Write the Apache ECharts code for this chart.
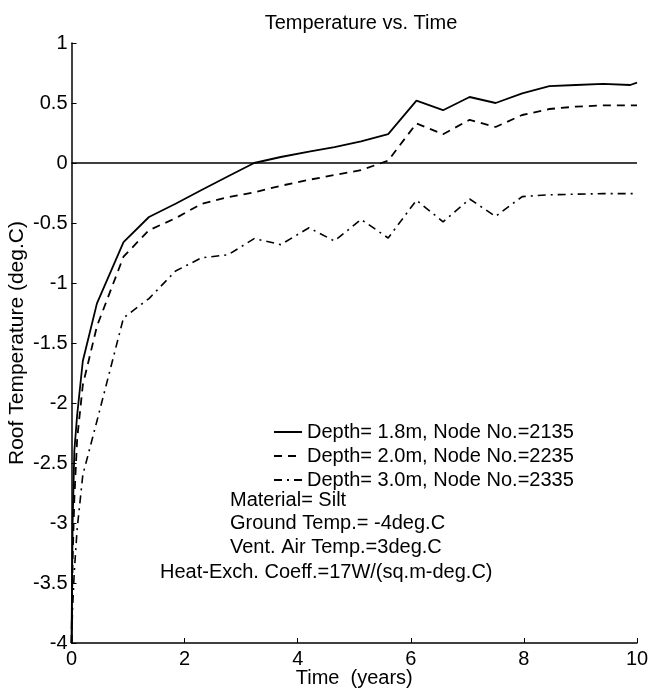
<!DOCTYPE html>
<html>
<head>
<meta charset="utf-8">
<script src="https://cdn.jsdelivr.net/npm/echarts@6/dist/echarts.min.js"></script>
<style>
html,body{margin:0;padding:0;background:#fff;}
#chart{width:653px;height:688px;}
</style>
</head>
<body>
<div id="chart"></div>
<script>
var times = [0, 0.02, 0.05, 0.1, 0.2, 0.45, 0.92, 1.37, 1.84, 2.3, 2.77, 3.23, 3.7, 4.2, 4.65, 5.12, 5.6, 6.1, 6.57, 7.04, 7.5, 7.97, 8.45, 8.92, 9.4, 9.88, 10];
var depth18 = [-4, -3.0, -2.4, -2.1, -1.65, -1.17, -0.66, -0.45, -0.34, -0.225, -0.11, 0.0, 0.05, 0.095, 0.133, 0.18, 0.24, 0.52, 0.44, 0.55, 0.50, 0.58, 0.64, 0.65, 0.66, 0.65, 0.67];
var depth20 = [-4, -3.3, -2.8, -2.3, -1.85, -1.36, -0.78, -0.56, -0.46, -0.34, -0.285, -0.245, -0.19, -0.14, -0.10, -0.06, 0.02, 0.33, 0.24, 0.36, 0.30, 0.40, 0.45, 0.47, 0.48, 0.48, 0.48];
var depth30 = [-4, -3.7, -3.4, -3.05, -2.6, -2.15, -1.29, -1.13, -0.9, -0.79, -0.765, -0.63, -0.68, -0.54, -0.65, -0.47, -0.625, -0.31, -0.49, -0.30, -0.445, -0.28, -0.265, -0.26, -0.255, -0.255, -0.255];
var seriesNames = ['Depth= 1.8m, Node No.=2135', 'Depth= 2.0m, Node No.=2235', 'Depth= 3.0m, Node No.=2335'];
var notes = ['Material= Silt', 'Ground Temp.= -4deg.C', 'Vent. Air Temp.=3deg.C', 'Heat-Exch. Coeff.=17W/(sq.m-deg.C)'];

function pairs(ys){ return times.map(function(t,i){ return [t, ys[i]]; }); }

var FONT = 'Liberation Sans, Arial, sans-serif';
var FS = 20;
var chart = echarts.init(document.getElementById('chart'));

chart.setOption({
  animation:false,
  backgroundColor:'#fff',
  title:{
    text:'Temperature vs. Time',
    left:356, top:8, textAlign:'center',
    textStyle:{color:'#000', fontFamily:FONT, fontSize:FS, fontWeight:'normal'}
  },
  grid:{left:71.5, right:16, top:43, bottom:45, containLabel:false, outerBoundsMode:'none'},
  legend:{
    orient:'vertical', left:268, top:417,
    itemWidth:28, itemHeight:14, itemGap:4,
    itemStyle:{opacity:0},
    textStyle:{color:'#000', fontFamily:FONT, fontSize:FS},
    data:seriesNames
  },
  graphic:[
    {type:'text', left:230, top:490, style:{text:notes[0], fill:'#000', font:FS+'px '+FONT}},
    {type:'text', left:230, top:513, style:{text:notes[1], fill:'#000', font:FS+'px '+FONT}},
    {type:'text', left:230, top:537, style:{text:notes[2], fill:'#000', font:FS+'px '+FONT}},
    {type:'text', left:160, top:562, style:{text:notes[3], fill:'#000', font:FS+'px '+FONT}}
  ],
  xAxis:{
    type:'value', min:0, max:10, interval:2,
    name:'Time  (years)', nameLocation:'middle', nameGap:25, nameMoveOverlap:false,
    nameTextStyle:{color:'#000', fontFamily:FONT, fontSize:FS},
    axisLine:{show:true, onZero:false, lineStyle:{color:'#000', width:1.5}},
    axisTick:{show:true, inside:true, length:5, lineStyle:{color:'#000'}},
    axisLabel:{color:'#000', fontFamily:FONT, fontSize:FS, margin:6},
    splitLine:{show:false}
  },
  yAxis:{
    type:'value', min:-4, max:1, interval:0.5,
    name:'Roof Temperature (deg.C)', nameLocation:'middle', nameGap:44, nameMoveOverlap:false,
    nameTextStyle:{color:'#000', fontFamily:FONT, fontSize:21},
    axisLine:{show:true, onZero:false, lineStyle:{color:'#000', width:1.5}},
    axisTick:{show:true, inside:true, length:5, lineStyle:{color:'#000'}},
    axisLabel:{color:'#000', fontFamily:FONT, fontSize:FS, margin:4},
    splitLine:{show:false}
  },
  series:[
    {
      name:seriesNames[0], type:'line', data:pairs(depth18), symbol:'none',
      lineStyle:{color:'#000', width:1.8, type:'solid'}, itemStyle:{color:'#000'},
      markLine:{silent:true, symbol:'none', label:{show:false},
        lineStyle:{color:'#000', width:1.5, type:'solid'}, data:[{yAxis:0}]}
    },
    {
      name:seriesNames[1], type:'line', data:pairs(depth20), symbol:'none',
      lineStyle:{color:'#000', width:1.8, type:[8,6]}, itemStyle:{color:'#000'}
    },
    {
      name:seriesNames[2], type:'line', data:pairs(depth30), symbol:'none',
      lineStyle:{color:'#000', width:1.6, type:[8,5,2,5]}, itemStyle:{color:'#000'}
    }
  ]
});
</script>
</body>
</html>
